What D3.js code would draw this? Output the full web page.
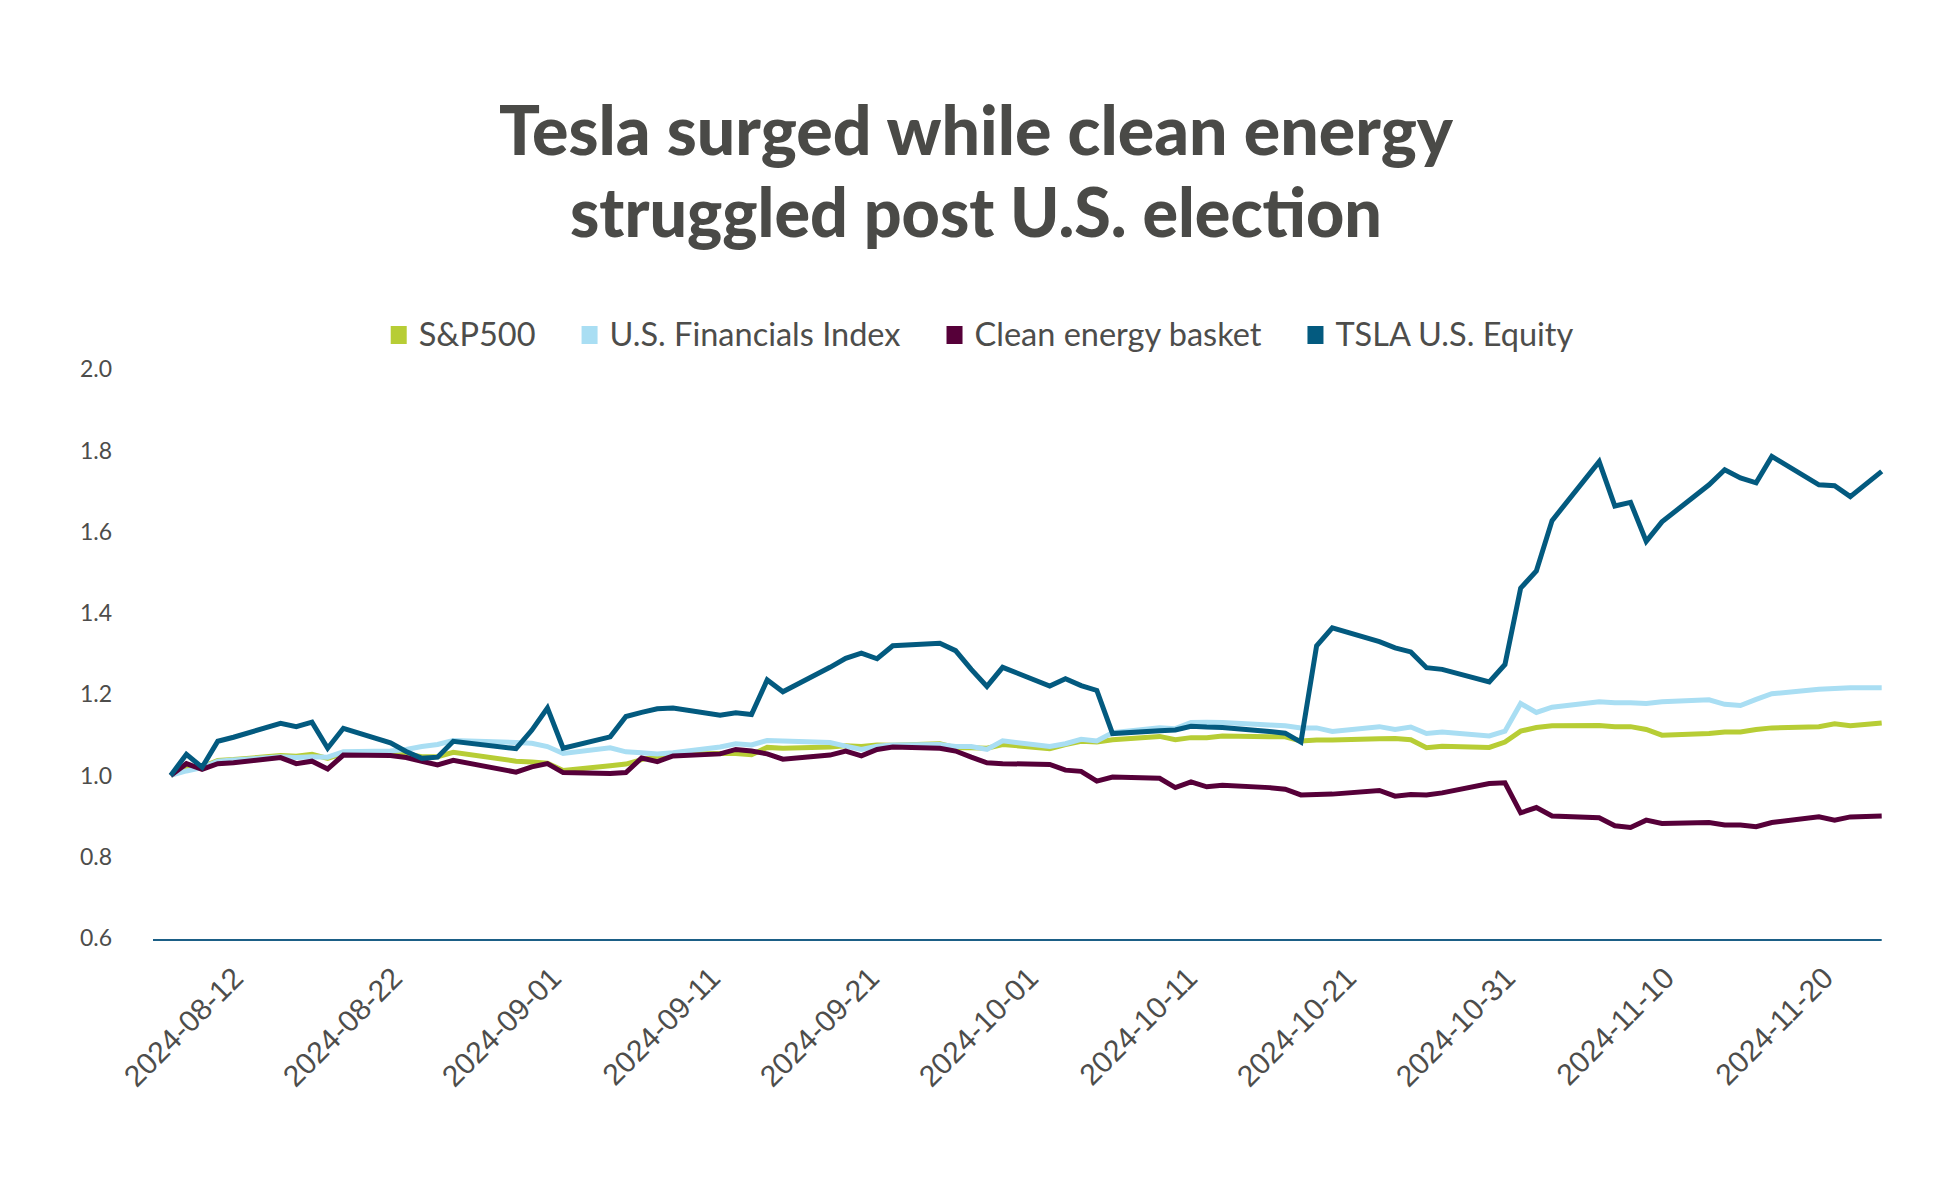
<!DOCTYPE html>
<html><head><meta charset="utf-8">
<script src="https://cdn.jsdelivr.net/npm/d3@7"></script>
<style>html,body{margin:0;padding:0;background:#fff;} svg{display:block;}</style>
</head><body>
<svg id="chart" width="1952" height="1177"></svg>
<script>
// ---------------- data ----------------
const dates = [
  "2024-08-12","2024-08-13","2024-08-14","2024-08-15","2024-08-16",
  "2024-08-19","2024-08-20","2024-08-21","2024-08-22","2024-08-23",
  "2024-08-26","2024-08-27","2024-08-28","2024-08-29","2024-08-30",
  "2024-09-03","2024-09-04","2024-09-05","2024-09-06",
  "2024-09-09","2024-09-10","2024-09-11","2024-09-12","2024-09-13",
  "2024-09-16","2024-09-17","2024-09-18","2024-09-19","2024-09-20",
  "2024-09-23","2024-09-24","2024-09-25","2024-09-26","2024-09-27",
  "2024-09-30","2024-10-01","2024-10-02","2024-10-03","2024-10-04",
  "2024-10-07","2024-10-08","2024-10-09","2024-10-10","2024-10-11",
  "2024-10-14","2024-10-15","2024-10-16","2024-10-17","2024-10-18",
  "2024-10-21","2024-10-22","2024-10-23","2024-10-24","2024-10-25",
  "2024-10-28","2024-10-29","2024-10-30","2024-10-31","2024-11-01",
  "2024-11-04","2024-11-05","2024-11-06","2024-11-07","2024-11-08",
  "2024-11-11","2024-11-12","2024-11-13","2024-11-14","2024-11-15",
  "2024-11-18","2024-11-19","2024-11-20","2024-11-21","2024-11-22",
  "2024-11-25","2024-11-26","2024-11-27","2024-11-29"
];
const sp500 = [
  1.000,1.017,1.021,1.037,1.039,
  1.049,1.047,1.052,1.042,1.054,
  1.051,1.053,1.046,1.046,1.057,
  1.035,1.033,1.030,1.012,
  1.024,1.028,1.039,1.047,1.053,
  1.054,1.054,1.051,1.069,1.067,
  1.070,1.073,1.071,1.075,1.074,
  1.078,1.068,1.068,1.067,1.076,
  1.066,1.076,1.084,1.082,1.088,
  1.096,1.088,1.093,1.093,1.097,
  1.095,1.095,1.085,1.087,1.087,
  1.090,1.091,1.088,1.068,1.072,
  1.069,1.082,1.109,1.118,1.122,
  1.123,1.120,1.120,1.113,1.099,
  1.103,1.107,1.107,1.113,1.117,
  1.120,1.127,1.122,1.129
];
const financials = [
  1.000,1.011,1.019,1.035,1.038,
  1.046,1.044,1.046,1.045,1.058,
  1.060,1.064,1.071,1.076,1.086,
  1.081,1.079,1.071,1.054,
  1.068,1.058,1.056,1.053,1.056,
  1.070,1.078,1.075,1.086,1.085,
  1.081,1.072,1.064,1.072,1.075,
  1.076,1.071,1.071,1.064,1.085,
  1.071,1.078,1.089,1.085,1.105,
  1.117,1.115,1.130,1.131,1.130,
  1.124,1.122,1.117,1.117,1.108,
  1.120,1.113,1.119,1.103,1.107,
  1.097,1.109,1.177,1.155,1.168,
  1.181,1.179,1.179,1.177,1.181,
  1.186,1.175,1.172,1.187,1.201,
  1.212,1.214,1.216,1.216
];
const cleanEnergy = [
  1.000,1.029,1.015,1.029,1.031,
  1.044,1.029,1.035,1.016,1.050,
  1.049,1.044,1.035,1.026,1.037,
  1.008,1.021,1.029,1.007,
  1.005,1.007,1.043,1.034,1.048,
  1.053,1.064,1.060,1.053,1.040,
  1.050,1.060,1.048,1.064,1.070,
  1.067,1.060,1.045,1.031,1.029,
  1.027,1.013,1.010,0.986,0.996,
  0.993,0.970,0.984,0.972,0.976,
  0.970,0.966,0.952,0.953,0.954,
  0.963,0.949,0.953,0.952,0.957,
  0.980,0.982,0.908,0.921,0.900,
  0.896,0.876,0.872,0.890,0.882,
  0.884,0.878,0.878,0.874,0.884,
  0.898,0.890,0.898,0.900
];
const tsla = [
  1.000,1.052,1.020,1.084,1.094,
  1.128,1.120,1.131,1.067,1.116,
  1.080,1.059,1.042,1.045,1.084,
  1.066,1.111,1.166,1.067,
  1.095,1.145,1.155,1.164,1.166,
  1.148,1.154,1.150,1.235,1.206,
  1.266,1.288,1.301,1.287,1.319,
  1.325,1.307,1.261,1.219,1.266,
  1.220,1.238,1.221,1.209,1.103,
  1.110,1.112,1.121,1.119,1.118,
  1.108,1.104,1.082,1.319,1.363,
  1.329,1.314,1.304,1.265,1.261,
  1.230,1.273,1.461,1.503,1.627,
  1.772,1.663,1.672,1.576,1.624,
  1.715,1.752,1.732,1.720,1.785,
  1.715,1.713,1.686,1.748
];
const seriesNames = ["S&P500", "U.S. Financials Index", "Clean energy basket", "TSLA U.S. Equity"];
const yTickValues = [0.6, 0.8, 1.0, 1.2, 1.4, 1.6, 1.8, 2.0];
const xTickLabels = ["2024-08-12","2024-08-22","2024-09-01","2024-09-11","2024-09-21",
  "2024-10-01","2024-10-11","2024-10-21","2024-10-31","2024-11-10","2024-11-20"];
const titleLines = ["Tesla surged while clean energy", "struggled post U.S. election"];

// ---------------- styles ----------------
const seriesColors = ["#b7cd35", "#a9def3", "#560039", "#035a7f"];
const textColor = "#4d4d4b";
const titleColor = "#4a4a47";

const svg = d3.select("#chart");
const parse = d3.utcParse("%Y-%m-%d");
const dateObjs = dates.map(parse);

const x = d3.scaleUtc().domain(d3.extent(dateObjs)).range([170.7, 1881.7]);
const y = d3.scaleLinear().domain([0.6, 2.0]).range([938, 369]);

// title
const title = svg.append("g");
const titleY = [154.5, 236.5];
const titleW = [954, 812];
titleLines.forEach((t, i) => {
  title.append("text")
    .attr("x", 976).attr("y", titleY[i])
    .attr("text-anchor", "middle")
    .attr("font-family", "Lato, 'Noto Sans', sans-serif")
    .attr("font-weight", 900)
    .attr("font-size", 68)
    .attr("fill", titleColor)
    .attr("textLength", titleW[i])
    .attr("lengthAdjust", "spacingAndGlyphs")
    .text(t);
});

// legend
const legend = svg.append("g");
let cursor = 0;
const textGap = 28, itemGap = 46;
seriesNames.forEach((name, i) => {
  const g = legend.append("g");
  g.append("rect").attr("x", 0).attr("y", -9).attr("width", 16).attr("height", 18)
    .attr("fill", seriesColors[i]);
  const t = g.append("text").attr("x", textGap).attr("y", 0).attr("dy", "0.35em")
    .attr("font-family", "Lato, 'Noto Sans', sans-serif")
    .attr("font-size", 32.5).attr("fill", textColor).text(name);
  const w = t.node().getComputedTextLength();
  g.attr("transform", `translate(${cursor},0)`);
  cursor += textGap + w + itemGap;
});
const legendWidth = cursor - itemGap;
legend.attr("transform", `translate(${982 - legendWidth / 2},335)`);

// y axis labels
const yAxis = svg.append("g");
yAxis.selectAll("text").data(yTickValues).join("text")
  .attr("x", 112).attr("y", d => y(d)).attr("dy", "0.36em")
  .attr("text-anchor", "end")
  .attr("font-family", "Lato, 'Noto Sans', sans-serif")
  .attr("font-size", 23).attr("fill", textColor)
  .text(d => d3.format(".1f")(d));

// x axis line
svg.append("line")
  .attr("x1", 153).attr("x2", x.range()[1])
  .attr("y1", y(0.6) + 2).attr("y2", y(0.6) + 2)
  .attr("stroke", "#1b5f86").attr("stroke-width", 2.2);

// x tick labels (the source places them on their own evenly spaced date scale)
const tickDates = xTickLabels.map(parse);
const xLabel = d3.scaleUtc().domain(d3.extent(tickDates)).range([245, 1835]);
svg.append("g").selectAll("text").data(tickDates).join("text")
  .attr("transform", d => `translate(${xLabel(d)},980) rotate(-45)`)
  .attr("text-anchor", "end")
  .attr("font-family", "'Liberation Sans', Arial, sans-serif")
  .attr("font-size", 30).attr("fill", textColor)
  .text(d => d3.utcFormat("%Y-%m-%d")(d));

// lines
const allSeries = [sp500, financials, cleanEnergy, tsla];
const line = d3.line().x((d, i) => x(dateObjs[i])).y(d => y(d));
svg.append("g").selectAll("path").data(allSeries).join("path")
  .attr("d", d => line(d))
  .attr("fill", "none")
  .attr("stroke", (d, i) => seriesColors[i])
  .attr("stroke-width", 5)
  .attr("stroke-linejoin", "miter");
</script>
</body></html>
